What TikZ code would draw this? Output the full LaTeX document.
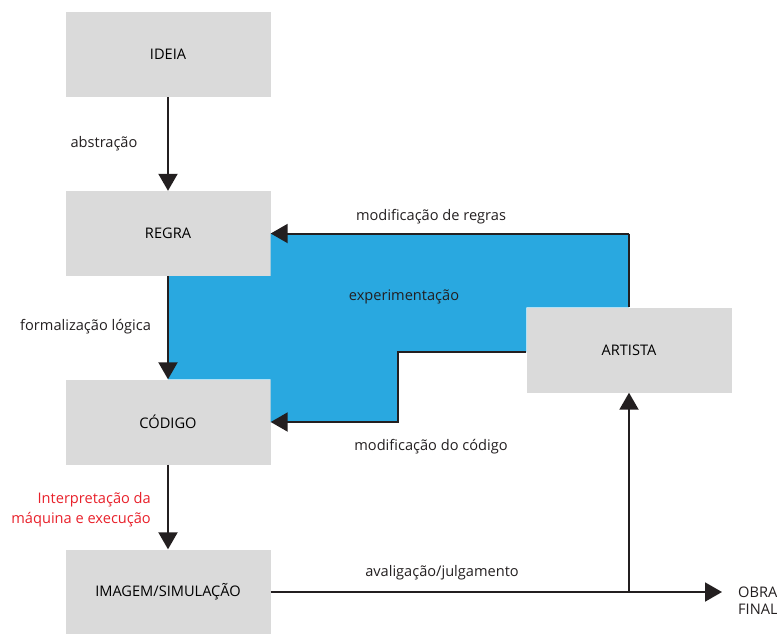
\documentclass[tikz,border=0pt]{standalone}
\usepackage{fontspec}
\setmainfont{Open Sans}
\usetikzlibrary{arrows.meta}
\definecolor{boxgray}{RGB}{218,218,218}
\definecolor{expblue}{RGB}{41,168,224}
\definecolor{linedark}{RGB}{35,31,32}
\definecolor{labelred}{RGB}{232,32,42}

\begin{document}
\begin{tikzpicture}[x=1pt,y=-1pt,
  font=\fontsize{14.6}{19}\selectfont,
  box/.style={fill=boxgray,minimum width=205pt,minimum height=85pt,inner sep=0pt},
  link/.style={draw=linedark,line width=2pt},
  arrow/.style={link,-{Triangle[length=17pt,width=19pt]}},
  lbl/.style={inner sep=0pt,text=linedark}]
\useasboundingbox (0,0) rectangle (777,633);
% boxes
\node [box] (ideia) at (168,54.5) {IDEIA};
\node [box] (regra) at (168,233.5) {REGRA};
\node [box] (codigo) at (168,422) {CÓDIGO};
\node [box] (imagem) at (168,592) {IMAGEM/SIMULAÇÃO};
\node [box] (artista) at (629,350) {ARTISTA};
\coordinate (topright) at (artista.north |- regra.east);
\coordinate (step) at (398,352);
\coordinate (fork) at (artista.south |- imagem.east);
\coordinate (fim) at (722,592);
% experimentation area
\fill [expblue] (regra.south) -- (regra.south east) -- (regra.east) -- (topright)
  -- (artista.north) -- (artista.north west) -- (artista.west |- step) -- (step)
  -- (step |- codigo.east) -- (codigo.east) -- (codigo.north east) -- (codigo.north) -- cycle;
% connectors
\draw [arrow] (ideia) -- (regra);
\draw [arrow] (regra.south) -- (codigo.north);
\draw [arrow] (codigo) -- (imagem);
\draw [arrow] (topright) -- (regra.east);
\draw [link] (topright) -- (artista.north);
\draw [arrow] (artista.west |- step) -- (step) -- (step |- codigo.east) -- (codigo.east);
\draw [arrow] (imagem.east) -- (fim);
\draw [arrow] (fork) -- (artista.south);
% labels
\node [lbl] (abs) at (104,144) {abstração};
\node [lbl,anchor=west] (form) at (20,327) {formalização lógica};
\node [lbl] (modreg) at (431,217) {modificação de regras};
\node [lbl] (exp) at (404,297) {experimentação};
\node [lbl] (modcod) at (431,447) {modificação do código};
\node [lbl,anchor=east,align=right,text=labelred] (interp) at (151,510) {Interpretação da\\[1pt]máquina e execução};
\node [lbl] (aval) at (442,573) {avaligação/julgamento};
\node [lbl,anchor=west,align=left] (obra) at (738,601) {OBRA\\[-2pt]FINAL};
\end{tikzpicture}
\end{document}
